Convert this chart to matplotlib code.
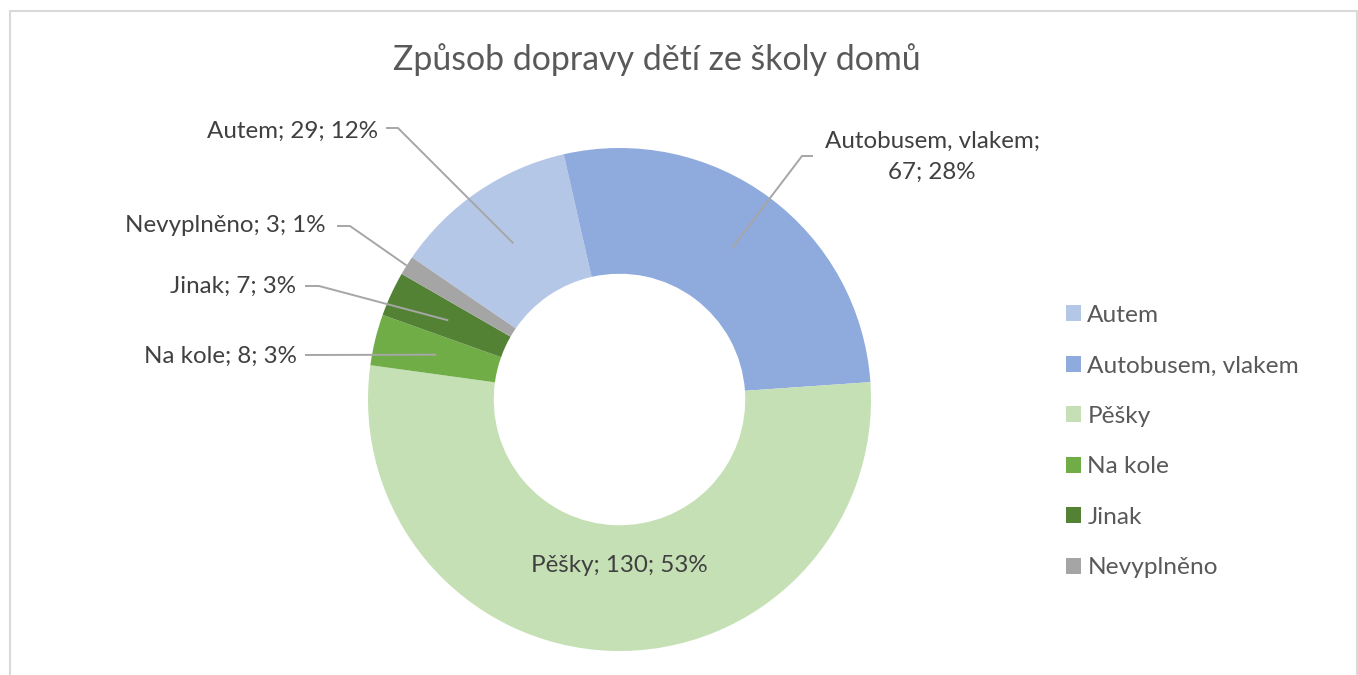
import matplotlib
matplotlib.use('Agg')
import matplotlib.pyplot as plt
from matplotlib.patches import Rectangle
import numpy as np

categories = ['Autem', 'Autobusem, vlakem', 'Pěšky', 'Na kole', 'Jinak', 'Nevyplněno']
counts = [29, 67, 130, 8, 7, 3]
pct_labels = [12, 28, 53, 3, 3, 1]
colors = ['#B4C7E7', '#8FAADC', '#C5E0B4', '#70AD47', '#548235', '#A5A5A5']

plt.rcParams['font.family'] = ['Lato', 'DejaVu Sans']

W, H = 1358, 675
fig = plt.figure(figsize=(W / 100, H / 100), dpi=100)

# donut centre and radius in pixels (from top-left)
cx, cy, R = 619.5, 399.5, 251.5
ax = fig.add_axes([(cx - 1.1 * R) / W, (H - cy - 1.1 * R) / H, 2.2 * R / W, 2.2 * R / H])

wedges, _ = ax.pie(counts, colors=colors, startangle=145.6, counterclock=False,
                   radius=1, wedgeprops=dict(width=0.5, linewidth=0))
ax.set_xlim(-1.1, 1.1)
ax.set_ylim(-1.1, 1.1)
ax.axis('off')


def px(x, y):
    return (x - cx) / R, (cy - y) / R


def anchor(w, r=0.75):
    a = np.deg2rad((w.theta1 + w.theta2) / 2)
    return r * np.cos(a), r * np.sin(a)


label_col = '#404040'
line_col = '#A6A6A6'
lab_fs = 17.4

# (text pos px, ha, leader points px, anchor radius)
layout = {
    0: ((378, 131), 'right', [(386, 128), (398, 128)], 0.75),
    1: ((932, 157), 'center', [(813, 156), (802, 156)], 0.75),
    3: ((297, 356), 'right', [(305, 355)], 0.75),
    4: ((296, 286), 'right', [(305, 286), (319, 286)], 0.75),
    5: ((326, 226), 'right', [(337, 226), (350, 226)], 1.0),
}

for i, w in enumerate(wedges):
    if i == 1:
        txt = f'{categories[i]};\n{counts[i]}; {pct_labels[i]}%'
    else:
        txt = f'{categories[i]}; {counts[i]}; {pct_labels[i]}%'
    if i in layout:
        (tx, ty), ha, pts, r = layout[i]
        xs, ys = zip(*([px(*p) for p in pts] + [anchor(w, r)]))
        ax.plot(xs, ys, color=line_col, lw=1.4, solid_capstyle='butt', clip_on=False)
        ax.text(*px(tx, ty), txt, ha=ha, va='center', fontsize=lab_fs,
                color=label_col, linespacing=1.6, multialignment='center')
    else:
        # inside label, centred under the hole
        lx, ly = anchor(w, 0.662)
        ax.text(0, ly, txt, ha='center', va='center',
                fontsize=lab_fs, color=label_col)

fig.text(657 / W, 1 - 60 / H, 'Způsob dopravy dětí ze školy domů',
         ha='center', va='center', fontsize=24.4, color='#595959')

fig.legend(wedges, categories, loc='upper left',
           bbox_to_anchor=(1066 / W, 1 - 305 / H), frameon=False,
           borderpad=0, borderaxespad=0,
           fontsize=17.6, labelcolor='#595959', handlelength=0.62,
           handleheight=0.62, handletextpad=0.25, labelspacing=1.205)

fig.add_artist(Rectangle((10 / W, -0.02), (1357 - 10) / W, (H - 11) / H + 0.02,
                         transform=fig.transFigure, fill=False,
                         ec='#D9D9D9', lw=1.5))

fig.savefig('out.png', dpi=100)
